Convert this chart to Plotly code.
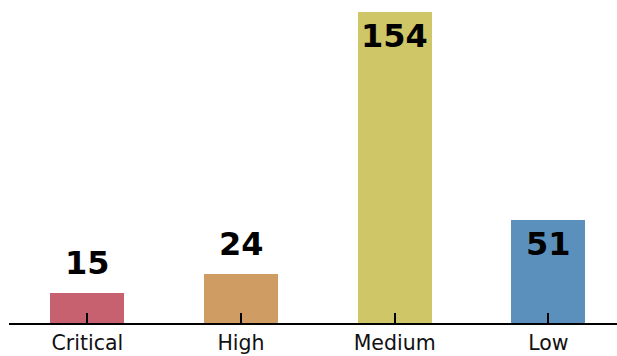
import plotly.graph_objects as go

# Findings per severity level
severities = ["Critical", "High", "Medium", "Low"]
counts = [15, 24, 154, 51]
bar_colors = ["#c7606f", "#cf9c64", "#cfc668", "#5b8fbc"]

FONT = "DejaVu Sans"

fig = go.Figure(
    go.Bar(
        x=list(range(len(severities))),
        y=counts,
        width=0.48,
        marker=dict(color=bar_colors, line=dict(width=0)),
        hoverinfo="skip",
    )
)

# Count labels: inside the top of tall bars, above short ones
peak = max(counts)
for i, v in enumerate(counts):
    inside = v >= 0.3 * peak
    fig.add_annotation(
        x=i, y=v, text=f"<b>{v}</b>", showarrow=False,
        yanchor="middle", yshift=-24 if inside else 30,
        font=dict(family=FONT, size=32, color="#000000"),
    )

fig.update_layout(
    width=617, height=356,
    margin=dict(l=9, r=0, t=0, b=33),
    paper_bgcolor="white", plot_bgcolor="white",
    showlegend=False,
    bargap=0,
    xaxis=dict(
        range=[-0.51, 3.447],
        tickmode="array",
        tickvals=list(range(len(severities))),
        ticktext=severities,
        ticks="inside", ticklen=10, tickwidth=1.5, tickcolor="#000000",
        showline=True, linecolor="#000000", linewidth=2,
        showgrid=False, zeroline=False,
        tickfont=dict(family=FONT, size=20.5, color="#111111"),
    ),
    yaxis=dict(
        range=[0, 159.7],
        visible=False, showgrid=False, zeroline=False,
    ),
)

fig.write_html("out.html")
